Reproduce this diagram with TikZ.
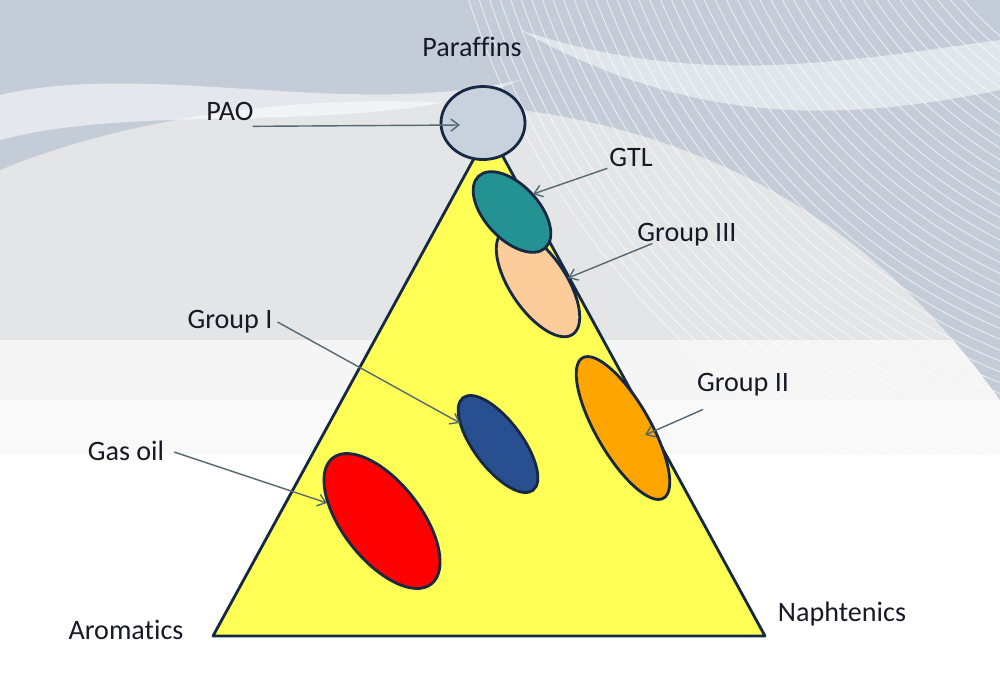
\documentclass[tikz,border=0pt]{standalone}
\usepackage{fontspec}
\setmainfont{Carlito}[Ligatures={NoCommon}]
\usetikzlibrary{arrows.meta,shapes.geometric,calc}
\definecolor{edge}{RGB}{22,40,68}
\definecolor{txt}{RGB}{22,26,38}
\definecolor{leader}{RGB}{85,105,115}
\definecolor{triyellow}{RGB}{255,255,85}
\definecolor{paogray}{RGB}{200,210,222}
\definecolor{gtlteal}{RGB}{36,146,146}
\definecolor{peach}{RGB}{252,205,155}
\definecolor{gonebl}{RGB}{40,80,145}
\definecolor{gtwoor}{RGB}{255,165,0}
\definecolor{bglight}{RGB}{228,229,231}
\definecolor{bgblue}{RGB}{196,205,215}

\begin{document}
\begin{tikzpicture}[x=0.2mm,y=-0.2mm,
  lbl/.style={font=\fontsize{16}{19}\selectfont,text=txt,inner sep=1pt},
  blob/.style={ellipse,draw=edge,line width=1.6pt,inner sep=0pt},
  lead/.style={draw=leader,line width=0.8pt,-{Straight Barb[length=1.6mm,width=2.4mm]}}]
\useasboundingbox (0,0) rectangle (1000,693);
% backdrop
\fill[white] (0,0) rectangle (1000,693);
\fill[bglight] (0,0) rectangle (1000,455);
\fill[gray!8] (0,340) rectangle (1000,400);
\fill[gray!5] (0,400) rectangle (1000,455);
\begin{scope}
  \clip (0,0) rectangle (1000,455);
  \fill[bgblue] (0,0) -- (1000,0) -- (1000,400) .. controls (900,260) and (750,130) .. (480,105)
     .. controls (300,90) and (120,120) .. (0,170) -- cycle;
  \fill[white,opacity=.55] (0,95) .. controls (150,60) and (350,120) .. (520,80)
     .. controls (380,140) and (150,100) .. (0,140) -- cycle;
  \fill[white,opacity=.5] (520,30) .. controls (700,90) and (850,60) .. (1000,40)
     -- (1000,90) .. controls (850,120) and (700,130) .. (520,30) -- cycle;
  \foreach \r in {380,390,...,820}
    \draw[white,opacity=.7,line width=.45pt] (1250,-250) circle (\r);
\end{scope}
% triangle
\coordinate (apex) at (489,131);
\coordinate (aro) at (213,636);
\coordinate (nap) at (765,636);
\filldraw[fill=triyellow,draw=edge,line width=1.6pt,line join=round] (aro) -- (apex) -- (nap) -- cycle;
% base oils
\node[blob,fill=red,minimum width=32mm,minimum height=15.6mm,rotate=-52] (gasoil) at (382,521) {};
\node[blob,fill=gonebl,minimum width=23.2mm,minimum height=9.6mm,rotate=-53] (grpone) at (498,444) {};
\node[blob,fill=gtwoor,minimum width=32.4mm,minimum height=10.8mm,rotate=-60] (grptwo) at (623,428) {};
\node[blob,fill=peach,minimum width=24.8mm,minimum height=11.2mm,rotate=-56] (grpthree) at (538,283) {};
\node[blob,fill=gtlteal,minimum width=19.6mm,minimum height=10.8mm,rotate=-47] (gtl) at (512,212) {};
\node[blob,fill=paogray,minimum width=16.8mm,minimum height=14.6mm] (pao) at (483,123) {};
% labels
\node[lbl] (parl) at (472,47) {Paraffins};
\node[lbl] (paol) at (230,111) {PAO};
\node[lbl] (gtll) at (631,157) {GTL};
\node[lbl] (g3l) at (687,235) {Group III};
\node[lbl] (g1l) at (230,322) {Group I};
\node[lbl] (g2l) at (743,385) {Group II};
\node[lbl] (gasl) at (126,451) {Gas oil};
\node[lbl] (arol) at (126,630) {Aromatics};
\node[lbl] (napl) at (842,614) {Naphtenics};
% arrow tips
\coordinate (paotip) at (460,125);
\coordinate (gtltip) at (533,194);
\coordinate (g3tip) at (568,278);
\coordinate (g1tip) at (460,423);
\coordinate (g2tip) at (645,435);
\coordinate (gastip) at (327,503);
\draw[lead] ($(paol.south east)+(-3,4)$) -- (paotip);
\draw[lead] (gtll.south west) -- (gtltip);
\draw[lead] ($(g3l.south west)+(17,-5)$) -- (g3tip);
\draw[lead] ($(g1l.east)+(3,0)$) -- (g1tip);
\draw[lead] ($(g2l.south west)+(8,11)$) -- (g2tip);
\draw[lead] ($(gasl.east)+(8,1)$) -- (gastip);
\end{tikzpicture}
\end{document}
